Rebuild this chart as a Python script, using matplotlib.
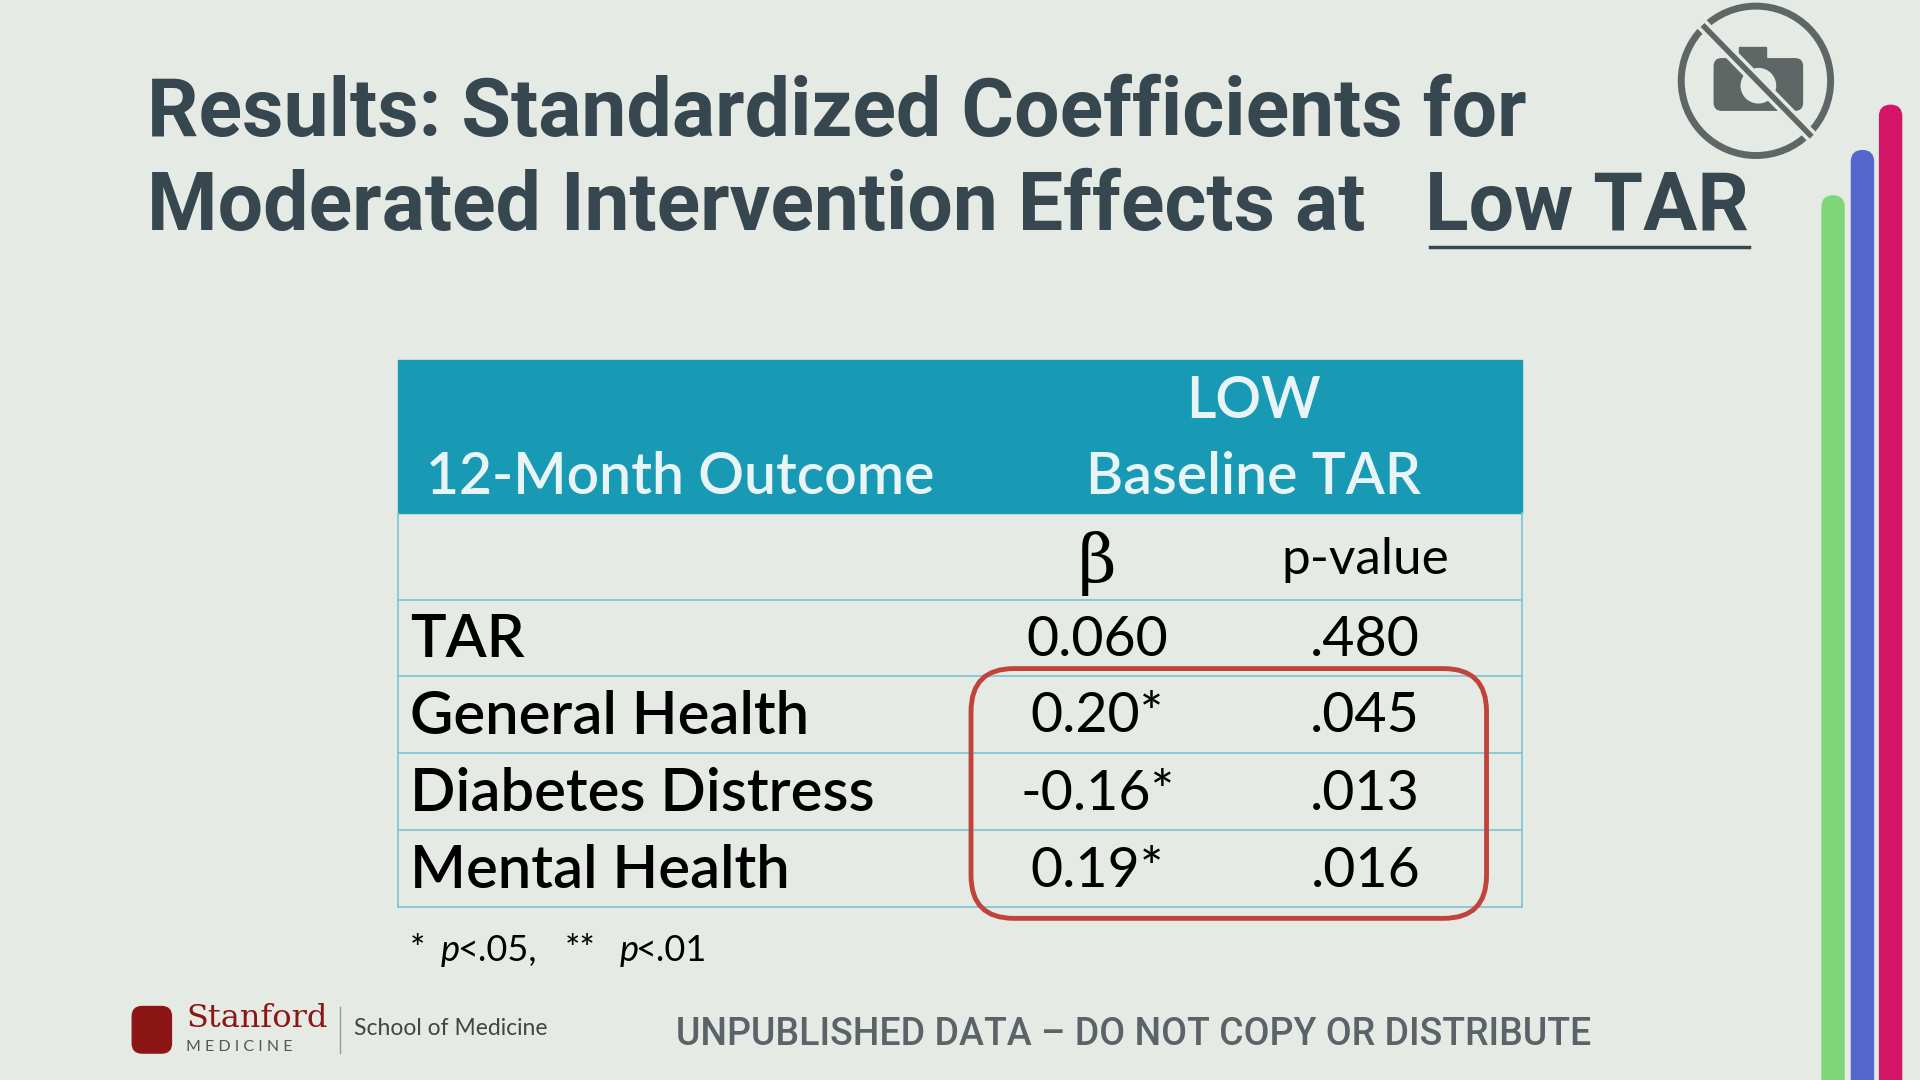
import matplotlib.pyplot as plt
from matplotlib.patches import Rectangle, FancyBboxPatch, Circle

outcomes = ['TAR', 'General Health', 'Diabetes Distress', 'Mental Health']
betas = ['0.060', '0.20*', '-0.16*', '0.19*']
pvals = ['.480', '.045', '.013', '.016']

W, H = 1568, 882
fig = plt.figure(figsize=(19.2, 10.8), dpi=100)
fig.patch.set_facecolor('#e5eae4')
ax = fig.add_axes([0, 0, 1, 1])
ax.set_xlim(0, W)
ax.set_ylim(H, 0)
ax.axis('off')

title_c = '#37474f'
tfs = 58
ax.text(120, 93, 'Results: Standardized Coefficients for', fontsize=tfs, fontweight='bold',
        color=title_c, va='center', family='Roboto')
ax.text(120, 170, 'Moderated Intervention Effects at', fontsize=tfs, fontweight='bold',
        color=title_c, va='center', family='Roboto')
ax.text(1428, 170, 'Low TAR', fontsize=tfs, fontweight='bold',
        color=title_c, va='center', ha='right', family='Roboto')
ax.plot([1168, 1428], [202, 202], color=title_c, lw=2.5)

# table
x0, x1 = 325, 1243
ax.add_patch(Rectangle((x0, 294), x1 - x0, 125, color='#189ab4', zorder=1))
line_c = '#7cc3d3'
rows = [419, 490, 552, 615, 678, 741]
for y in rows[1:]:
    ax.plot([x0, x1], [y, y], color=line_c, lw=1.2)
ax.plot([x0, x0], [419, 741], color=line_c, lw=1.2)
ax.plot([x1, x1], [419, 741], color=line_c, lw=1.2)

hfs = 41
ax.text(348, 390, '12-Month Outcome', fontsize=hfs, color='#e8f4f6', va='center', family='Lato', fontweight='semibold')
ax.text(1024, 328, 'LOW', fontsize=hfs, color='#e8f4f6', va='center', ha='center', family='Lato', fontweight='semibold')
ax.text(1024, 390, 'Baseline TAR', fontsize=hfs, color='#e8f4f6', va='center', ha='center', family='Lato', fontweight='semibold')
ax.text(896, 460, 'β', fontsize=48, color='black', va='center', ha='center', family='DejaVu Serif')
ax.text(1115, 457, 'p-value', fontsize=37, color='black', va='center', ha='center', family='Lato')

for i, (o, b, p) in enumerate(zip(outcomes, betas, pvals)):
    yc = (rows[i + 1] + rows[i + 2]) / 2 + 2
    ax.text(335, yc, o, fontsize=43, color='black', va='center', family='Lato', fontweight='semibold')
    ax.text(896, yc, b, fontsize=40, color='black', va='center', ha='center', family='Lato')
    ax.text(1115, yc, p, fontsize=40, color='black', va='center', ha='center', family='Lato')

ax.add_patch(FancyBboxPatch((793, 546), 421, 204, boxstyle='round,pad=0,rounding_size=35',
                            fill=False, ec='#c0443c', lw=3.5, zorder=5))

ffs = 26
for x, t, st in [(335, '*', 'normal'), (360, 'p', 'italic'), (373, '<.05,', 'normal'),
                 (461, '**', 'normal'), (506, 'p', 'italic'), (519, '<.01', 'normal')]:
    ax.text(x, 776, t, fontsize=ffs, va='center', family='Lato', style=st)

ax.text(926, 845, 'UNPUBLISHED DATA – DO NOT COPY OR DISTRIBUTE', fontsize=27, color='#5b6368',
        va='center', ha='center', family='Roboto', fontweight='medium')

# logo
ax.add_patch(FancyBboxPatch((108, 822), 32, 38, boxstyle='round,pad=0,rounding_size=8', color='#8c1515'))
ax.text(152, 832, 'Stanford', fontsize=23, color='#8c1515', va='center', family='DejaVu Serif')
ax.text(152, 855, 'M E D I C I N E', fontsize=11.5, color='#555', va='center', family='Lato')
ax.plot([278, 278], [822, 860], color='#999', lw=1)
ax.text(289, 840, 'School of Medicine', fontsize=16.5, color='#444', va='center', family='Lato')

# camera icon
ax.add_patch(Circle((1434, 66), 61, fill=False, ec='#5f6766', lw=5))
ax.add_patch(FancyBboxPatch((1400, 48), 72, 42, boxstyle='round,pad=0,rounding_size=6', color='#5f6766'))
ax.add_patch(Rectangle((1420, 38), 22, 12, color='#5f6766'))
ax.add_patch(Circle((1436, 70), 14, color='#e5eae4'))
ax.plot([1392, 1478], [22, 110], color='#e5eae4', lw=9)
ax.plot([1392, 1478], [22, 110], color='#5f6766', lw=4)

# side bars
for x, top, c in [(1497, 160, '#7fd67a'), (1521, 123, '#5566cc'), (1544, 86, '#d41466')]:
    ax.add_patch(FancyBboxPatch((x - 9, top), 18, H - top + 20, boxstyle='round,pad=0,rounding_size=9', color=c))

fig.savefig('out.png', dpi=100, facecolor=fig.get_facecolor())
